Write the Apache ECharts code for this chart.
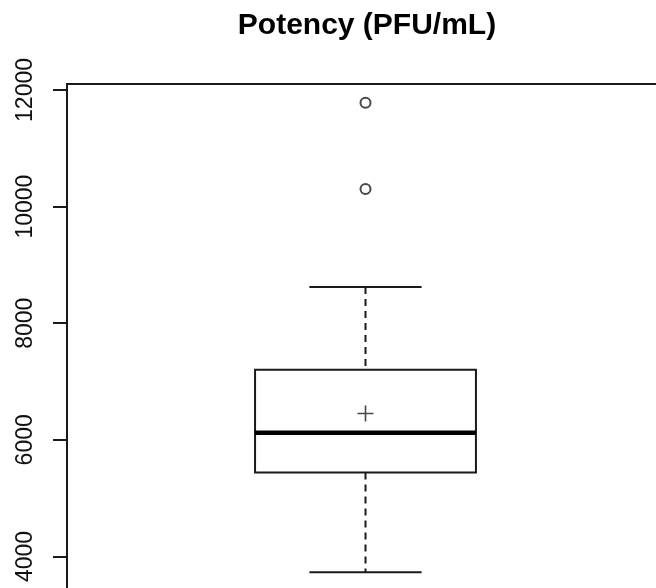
<!DOCTYPE html>
<html>
<head>
<meta charset="utf-8">
<script src="https://cdn.jsdelivr.net/npm/echarts@6/dist/echarts.min.js"></script>
<style>
html,body{margin:0;padding:0;background:#fff;overflow:hidden;width:656px;height:588px;}
#c{width:664px;height:591px;}
</style>
</head>
<body>
<div id="c"></div>
<script>
const title = 'Potency (PFU/mL)';
const boxPosition = [1];
const whiskerLow = [3730];
const q1 = [5440];
const median = [6120];
const q3 = [7200];
const whiskerHigh = [8620];
const means = [6450];
const outliers = [11780, 10300];
const yTicks = [4000, 6000, 8000, 10000, 12000];

const boxData = boxPosition.map((p, i) => [p, whiskerLow[i], q1[i], median[i], q3[i], whiskerHigh[i]]);
const outlierData = outliers.map(v => [boxPosition[0], v]);
const meanData = means.map((v, i) => [boxPosition[i], v]);

const chart = echarts.init(document.getElementById('c'), null, {renderer: 'canvas'});
const ink = '#1a1a1a';
chart.setOption({
  animation: false,
  backgroundColor: '#fff',
  title: {
    text: title, left: 362, top: 6, textAlign: 'center',
    textStyle: {fontFamily: 'Liberation Sans', fontWeight: 'bold', fontSize: 30, color: '#000'}
  },
  grid: {left: 67, right: 0, top: 84, bottom: 0, show: true, borderColor: ink, borderWidth: 2, containLabel: false},
  xAxis: {type: 'value', min: 0.5, max: 1.5, show: false},
  yAxis: {
    type: 'value', min: 3407, max: 12102,
    splitLine: {show: false},
    axisLine: {show: true, lineStyle: {color: ink, width: 2}},
    axisTick: {show: true, length: 14, customValues: yTicks, lineStyle: {color: ink, width: 2}},
    axisLabel: {customValues: yTicks, rotate: 90, margin: 30, fontFamily: 'Liberation Sans', fontSize: 23, color: '#111',
      formatter: function (v) { return String(v); }}
  },
  series: [
    {
      type: 'custom',
      data: boxData,
      encode: {x: 0, y: [1, 2, 3, 4, 5]},
      renderItem: function (params, api) {
        const x = api.value(0);
        const halfBox = api.size([0.185, 0])[0];
        const halfCap = api.size([0.094, 0])[0];
        const pLow = api.coord([x, api.value(1)]);
        const pQ1 = api.coord([x, api.value(2)]);
        const pMed = api.coord([x, api.value(3)]);
        const pQ3 = api.coord([x, api.value(4)]);
        const pHigh = api.coord([x, api.value(5)]);
        const cx = pMed[0];
        const line = {stroke: ink, lineWidth: 2};
        const dashed = {stroke: ink, lineWidth: 2, lineDash: [7, 5]};
        return {
          type: 'group',
          children: [
            {type: 'line', shape: {x1: cx, y1: pHigh[1], x2: cx, y2: pQ3[1]}, style: dashed},
            {type: 'line', shape: {x1: cx, y1: pQ1[1], x2: cx, y2: pLow[1]}, style: dashed},
            {type: 'line', shape: {x1: cx - halfCap, y1: pHigh[1], x2: cx + halfCap, y2: pHigh[1]}, style: line},
            {type: 'line', shape: {x1: cx - halfCap, y1: pLow[1], x2: cx + halfCap, y2: pLow[1]}, style: line},
            {type: 'rect', shape: {x: cx - halfBox, y: pQ3[1], width: halfBox * 2, height: pQ1[1] - pQ3[1]}, style: {fill: '#fff', stroke: ink, lineWidth: 2}},
            {type: 'line', shape: {x1: cx - halfBox, y1: pMed[1], x2: cx + halfBox, y2: pMed[1]}, style: {stroke: '#000', lineWidth: 4.5}}
          ]
        };
      },
      z: 2
    },
    {
      type: 'scatter', data: outlierData, symbol: 'circle', symbolSize: 10,
      itemStyle: {color: '#fff', borderColor: ink, borderWidth: 2}, z: 3
    },
    {
      type: 'scatter', data: meanData, symbol: 'path://M8,0 L8,16 M0,8 L16,8', symbolSize: 16,
      itemStyle: {color: 'none', borderColor: ink, borderWidth: 1.6}, z: 4
    }
  ]
});
</script>
</body>
</html>
